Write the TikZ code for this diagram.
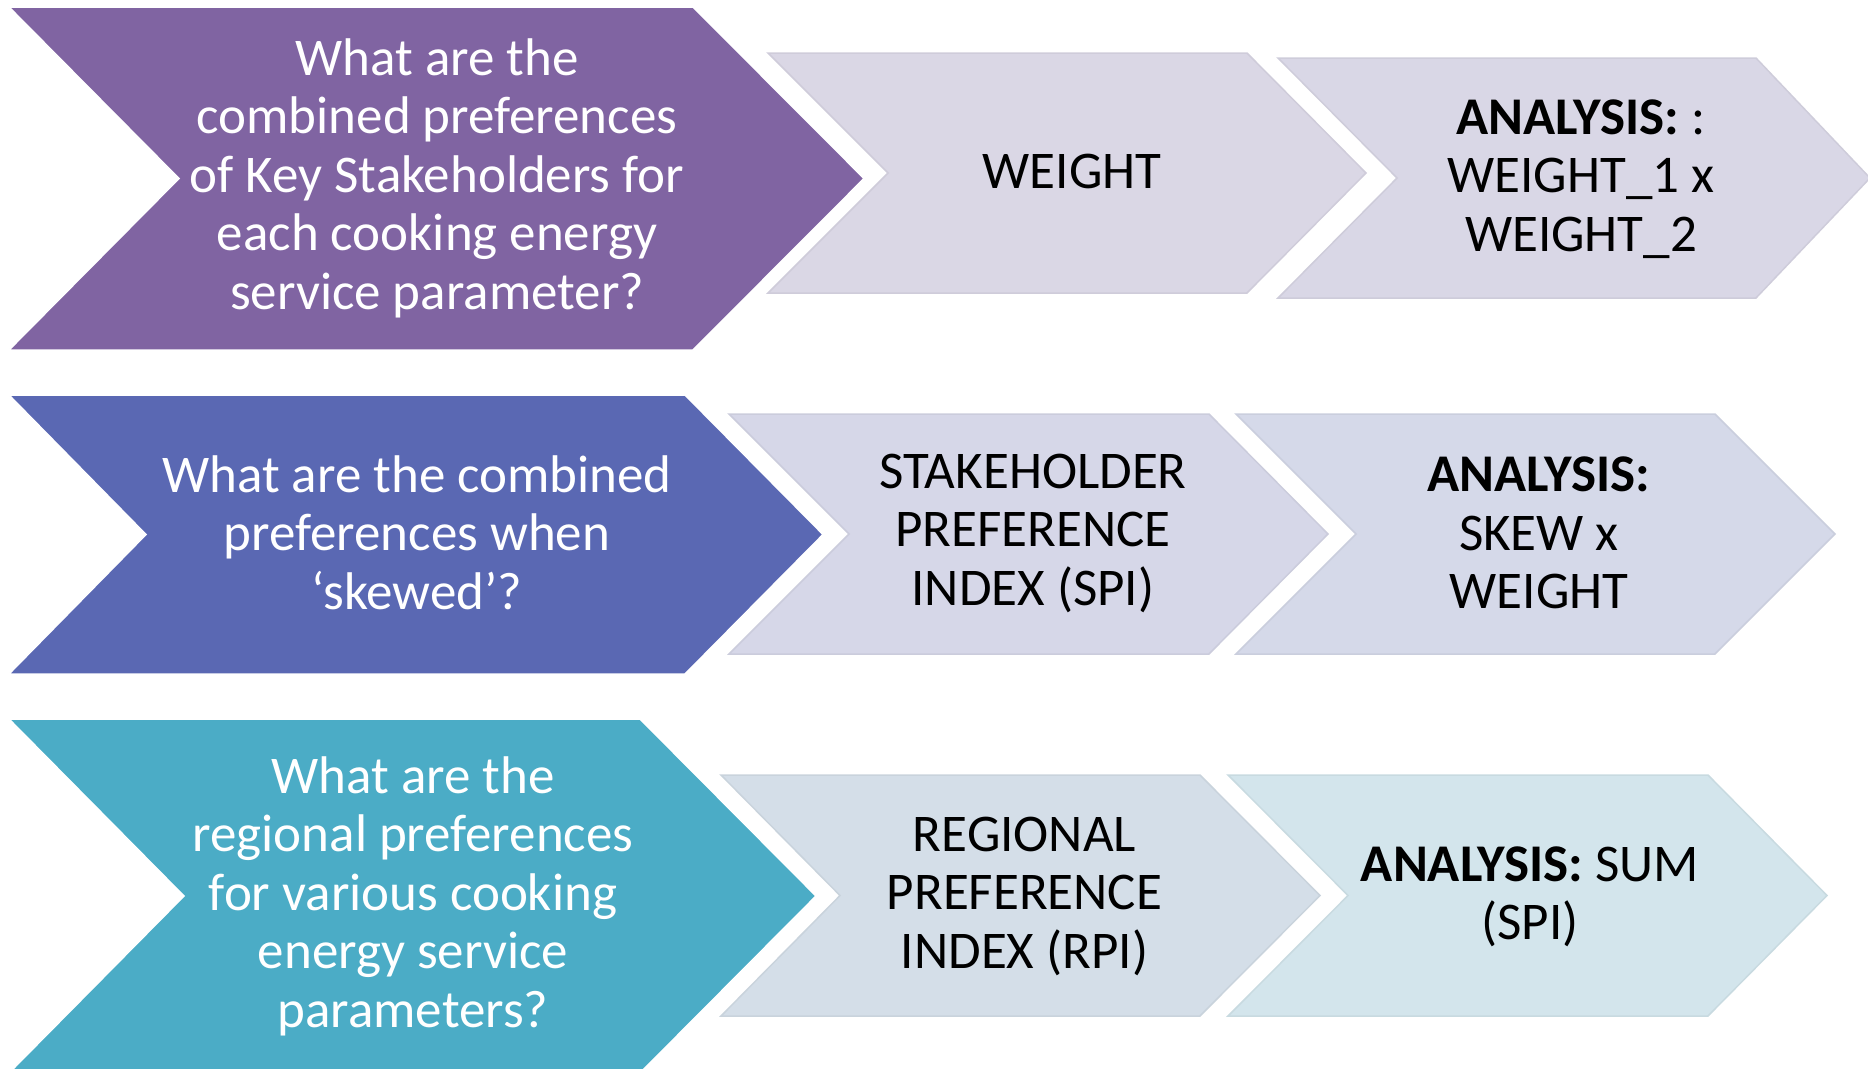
\documentclass[tikz,border=0pt]{standalone}
\usepackage{fontspec}
\setmainfont{Carlito}
\definecolor{qpurple}{HTML}{8064A2}
\definecolor{qblue}{HTML}{5A68B3}
\definecolor{qteal}{HTML}{4BACC6}
\definecolor{lpurpleA}{HTML}{DAD7E5}
\definecolor{lpurpleB}{HTML}{D9D7E6}
\definecolor{lblueA}{HTML}{D6D7E8}
\definecolor{lblueB}{HTML}{D5D9E9}
\definecolor{ltealA}{HTML}{D4DEE8}
\definecolor{ltealB}{HTML}{D3E5EC}
\tikzset{
  question/.style={fill=#1, draw=white, line width=1.5pt, line join=miter},
  result/.style={fill=#1, draw=#1!95!black, line width=1.5pt, line join=miter},
  qtext/.style={align=center, text=white, inner sep=0pt,
    font=\fontsize{53}{58.5}\selectfont},
  rtext/.style={align=center, text=black, inner sep=0pt,
    font=\fontsize{53}{58.5}\selectfont}
}
\begin{document}
\begin{tikzpicture}[x=1pt,y=-1pt]
\useasboundingbox (0,0) rectangle (1868,1068);
\begin{scope}
\clip (0,0) rectangle (1868,1068);
% row 1
\path[question=qpurple] (9,7) -- (693,7) -- (864,178.5) -- (693,350) -- (9,350) -- (179,178.5) -- cycle;
\path[result=lpurpleA] (768,53) -- (1247,53) -- (1366,173) -- (1247,293) -- (768,293) -- (888,173) -- cycle;
\path[result=lpurpleB] (1278,58) -- (1756,58) -- (1870,178) -- (1756,298) -- (1278,298) -- (1397,178) -- cycle;
% row 2
\path[question=qblue] (9,395) -- (685,395) -- (823,534.5) -- (685,674) -- (9,674) -- (146,534.5) -- cycle;
\path[result=lblueA] (729,414) -- (1209,414) -- (1328,534) -- (1209,654) -- (729,654) -- (849,534) -- cycle;
\path[result=lblueB] (1236,414) -- (1715,414) -- (1835,534) -- (1715,654) -- (1236,654) -- (1356,534) -- cycle;
% row 3
\path[question=qteal] (9,719) -- (640,719) -- (816,896) -- (640,1073) -- (9,1073) -- (184,896) -- cycle;
\path[result=ltealA] (721,775) -- (1200,775) -- (1320,895.5) -- (1200,1016) -- (721,1016) -- (840,895.5) -- cycle;
\path[result=ltealB] (1228,775) -- (1708,775) -- (1827,895.5) -- (1708,1016) -- (1228,1016) -- (1348,895.5) -- cycle;
\end{scope}
% texts
\node[qtext] (q1) at (437,178) {What are the\\combined preferences\\of Key Stakeholders for\\each cooking energy\\service parameter?};
\node[rtext] (w1) at (1072,171) {WEIGHT};
\node[rtext] (a1) at (1581,179) {\textbf{ANALYSIS:} :\\WEIGHT\_1 x\\WEIGHT\_2};
\node[qtext] (q2) at (417,532.5) {What are the combined\\preferences when\\‘skewed’?};
\node[rtext] (w2) at (1033,533) {STAKEHOLDER\\PREFERENCE\\INDEX (SPI)};
\node[rtext] (a2) at (1539,533) {\textbf{ANALYSIS:}\\SKEW x\\WEIGHT};
\node[qtext] (q3) at (413,896) {What are the\\regional preferences\\for various cooking\\energy service\\parameters?};
\node[rtext] (w3) at (1024.5,896) {REGIONAL\\PREFERENCE\\INDEX (RPI)};
\node[rtext] (a3) at (1530,897) {\textbf{ANALYSIS:} SUM\\(SPI)};
\end{tikzpicture}
\end{document}
